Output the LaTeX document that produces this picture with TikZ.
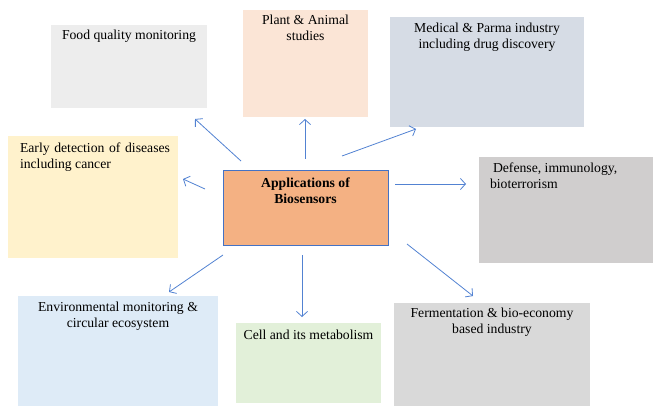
\documentclass[tikz,border=0pt]{standalone}
\usepackage{fontspec}
\setmainfont{Liberation Serif}
\usetikzlibrary{arrows.meta}
\definecolor{foodc}{HTML}{EDEDED}
\definecolor{plantc}{HTML}{FBE5D6}
\definecolor{medc}{HTML}{D6DCE5}
\definecolor{earlyc}{HTML}{FFF2CC}
\definecolor{defc}{HTML}{D0CECE}
\definecolor{envc}{HTML}{DEEBF7}
\definecolor{cellc}{HTML}{E2F0D9}
\definecolor{fermc}{HTML}{D9D9D9}
\definecolor{centc}{HTML}{F4B183}
\definecolor{arrc}{HTML}{5282D2}
\definecolor{edgec}{HTML}{4472C4}
\tikzset{
  box/.style={rectangle, inner sep=0pt, outer sep=0pt, anchor=north west},
  txt/.style={inner sep=0pt, outer sep=0pt, anchor=north, font=\fontsize{13.7}{16}\selectfont, align=center, text=black},
  conn/.style={draw=arrc, line width=0.8pt, -{Straight Barb[length=5pt,width=11pt,line width=0.8pt]}}
}
\begin{document}
\begin{tikzpicture}[x=1pt,y=-1pt]
\useasboundingbox (0,0) rectangle (653,406);
% boxes
\node[box, fill=foodc, minimum width=156pt, minimum height=83pt] (food) at (51,25) {};
\node[box, fill=plantc, minimum width=125pt, minimum height=107pt] (plant) at (243,10) {};
\node[box, fill=medc, minimum width=194pt, minimum height=110pt] (med) at (390,17) {};
\node[box, fill=earlyc, minimum width=170pt, minimum height=122pt] (early) at (8,136) {};
\node[box, fill=defc, minimum width=174pt, minimum height=106pt] (def) at (479,157) {};
\node[box, fill=envc, minimum width=200pt, minimum height=110pt] (env) at (18,296) {};
\node[box, fill=cellc, minimum width=145pt, minimum height=80pt] (cell) at (236,323) {};
\node[box, fill=fermc, minimum width=196pt, minimum height=103pt] (ferm) at (394,303) {};
\node[box, fill=centc, draw=edgec, line width=1pt, minimum width=165pt, minimum height=74pt] (cent) at (223,171) {};
% texts
\node[txt] (foodt) at ([yshift=-5pt]food.north) {Food quality monitoring};
\node[txt] (plantt) at ([yshift=-5pt]plant.north) {Plant \& Animal\\studies};
\node[txt] (medt) at ([yshift=-6pt]med.north) {Medical \& Parma industry\\including drug discovery};
\node[txt, anchor=north west, text width=150pt, align=justify] (earlyt) at (20,143) {Early detection of diseases including cancer};
\node[txt, anchor=north west, align=left] (deft) at (490,163) {\hspace*{3pt}Defense, immunology,\\bioterrorism};
\node[txt] (envt) at ([yshift=-6pt]env.north) {Environmental monitoring \&\\circular ecosystem};
\node[txt] (cellt) at ([yshift=-7pt]cell.north) {Cell and its metabolism};
\node[txt] (fermt) at ([yshift=-5pt]ferm.north) {Fermentation \& bio-economy\\based industry};
\node[txt, font=\fontsize{13.7}{15.5}\selectfont\bfseries] (centt) at ([yshift=-7pt]cent.north) {Applications of\\Biosensors};
% arrow end points
\coordinate (s1) at (241,161); \coordinate (e1) at (195,119);
\coordinate (s2) at (305,159); \coordinate (e2) at (305,119);
\coordinate (s3) at (342,156); \coordinate (e3) at (416,129);
\coordinate (s4) at (205,189); \coordinate (e4) at (183,179);
\coordinate (s5) at (395,184); \coordinate (e5) at (466,184);
\coordinate (s6) at (223,255); \coordinate (e6) at (169,292);
\coordinate (s7) at (302,255); \coordinate (e7) at (302,317);
\coordinate (s8) at (407,244); \coordinate (e8) at (473,296);
\draw[conn] (s1) -- (e1);
\draw[conn] (s2) -- (e2);
\draw[conn] (s3) -- (e3);
\draw[conn] (s4) -- (e4);
\draw[conn] (s5) -- (e5);
\draw[conn] (s6) -- (e6);
\draw[conn] (s7) -- (e7);
\draw[conn] (s8) -- (e8);
\end{tikzpicture}
\end{document}
